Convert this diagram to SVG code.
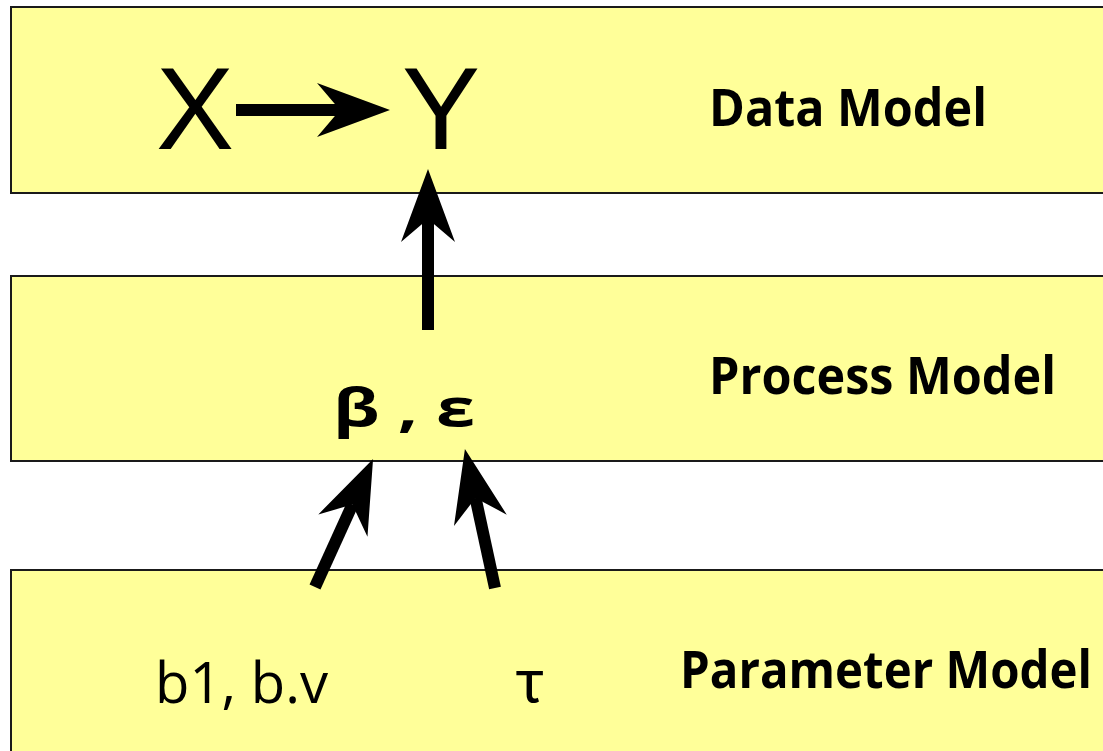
<svg xmlns="http://www.w3.org/2000/svg" width="1103" height="751" viewBox="0 0 1103 751">
<style>
.box{fill:#FFFF99;stroke:#1a1a1a;stroke-width:2}
.lbl{font-family:"Open Sans","Noto Sans",sans-serif;font-weight:bold;font-size:52px;fill:#000}
.sym{font-family:"Liberation Sans",Arial,sans-serif;font-size:117px;fill:#000}
.par{font-family:"Open Sans","Noto Sans",sans-serif;font-size:56px;fill:#000}
.conn{stroke:#000;stroke-width:12;fill:none;marker-end:url(#ah)}
</style>
<defs>
<marker id="ah" markerUnits="userSpaceOnUse" markerWidth="120" markerHeight="80" viewBox="-40 -40 120 80" refX="0" refY="0" orient="auto" overflow="visible">
<path d="M50,0 L-23,-27 L0,0 L-23,27 Z" fill="#000"/>
</marker>
</defs>
<g id="data-model">
<rect class="box" x="11" y="7" width="1094" height="186"/>
<text class="sym" x="156" y="149">X</text>
<text class="sym" x="402" y="149">Y</text>
<text class="lbl" x="709" y="126" textLength="278" lengthAdjust="spacingAndGlyphs">Data Model</text>
</g>
<g id="process-model">
<rect class="box" x="11" y="276" width="1094" height="185"/>
<text class="lbl" x="333" y="426" font-size="76" textLength="142" lengthAdjust="spacingAndGlyphs">β , ε</text>
<text class="lbl" x="709" y="394" textLength="347" lengthAdjust="spacingAndGlyphs">Process Model</text>
</g>
<g id="parameter-model">
<rect class="box" x="11" y="570" width="1094" height="183"/>
<text class="par" x="155" y="703" textLength="173" lengthAdjust="spacingAndGlyphs">b1, b.v</text>
<text x="514" y="702" font-family="Roboto, sans-serif" font-size="60" fill="#000">τ</text>
<text class="lbl" x="680" y="688" textLength="412" lengthAdjust="spacingAndGlyphs">Parameter Model</text>
</g>
<g id="connectors">
<line class="conn" x1="236" y1="110" x2="340" y2="110"/>
<line class="conn" x1="428" y1="330" x2="428" y2="219"/>
<line class="conn" x1="315" y1="587" x2="352.4" y2="504.6"/>
<line class="conn" x1="495" y1="588" x2="475.5" y2="497.9"/>
</g>
</svg>
